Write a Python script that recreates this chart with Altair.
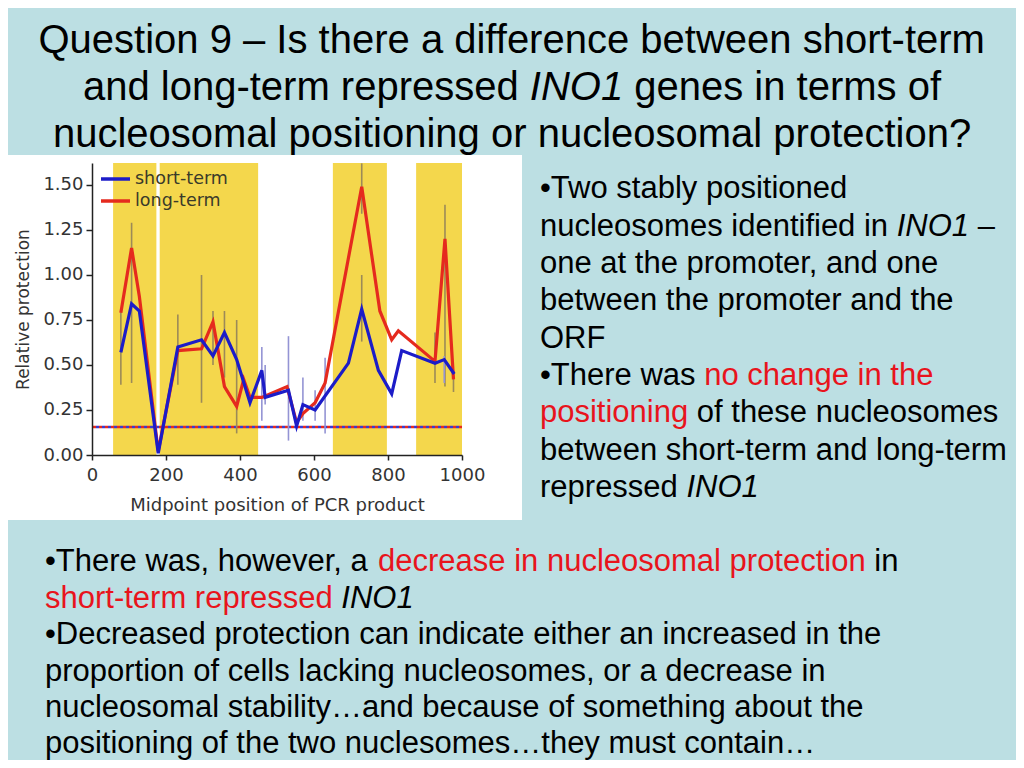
import altair as alt
import pandas as pd

# ---------------- data ----------------
short_x = [78, 107, 128, 179, 232, 296, 327, 358, 391, 427, 459, 468, 531, 553, 570, 603, 693, 729, 774, 810, 837, 927, 952, 979]
short_y = [0.57, 0.84, 0.80, 0.01, 0.60, 0.64, 0.55, 0.68, 0.53, 0.29, 0.47, 0.32, 0.36, 0.16, 0.28, 0.25, 0.51, 0.81, 0.47, 0.34, 0.58, 0.51, 0.53, 0.45]

long_x = [78, 107, 128, 179, 232, 296, 327, 358, 391, 410, 427, 459, 527, 553, 570, 603, 630, 729, 778, 810, 828, 927, 954, 977]
long_y = [0.79, 1.15, 0.88, 0.02, 0.58, 0.59, 0.74, 0.38, 0.27, 0.42, 0.32, 0.32, 0.38, 0.18, 0.23, 0.29, 0.40, 1.49, 0.80, 0.64, 0.69, 0.52, 1.20, 0.42]

err_x = [78, 107, 232, 296, 327, 358, 391, 729, 729, 927, 954, 977, 459, 468, 531, 570, 603, 630, 952]
err_lo = [0.39, 0.40, 0.39, 0.29, 0.50, 0.43, 0.12, 1.34, 0.63, 0.40, 0.38, 0.35, 0.19, 0.28, 0.08, 0.19, 0.19, 0.12, 0.40]
err_hi = [0.80, 1.29, 0.78, 1.00, 0.80, 0.80, 0.75, 1.62, 1.00, 0.68, 1.39, 0.47, 0.60, 0.50, 0.66, 0.43, 0.36, 0.54, 0.55]
err_series = ["long", "long", "long", "long", "long", "long", "long", "long", "long", "long", "long", "long",
              "short", "short", "short", "short", "short", "short", "short"]

band_start = [57, 183, 651, 876]
band_end = [174, 449, 797, 1000]

background_level = [0.155]

x_ticks = [0, 200, 400, 600, 800, 1000]
y_ticks = [0.0, 0.25, 0.5, 0.75, 1.0, 1.25, 1.5]

series_names = ["short-term", "long-term"]

title_lines = [
    [("Question 9 \u2013 Is there a difference between short-term", "black", False)],
    [("and long-term repressed ", "black", False), ("INO1", "black", True), (" genes in terms of", "black", False)],
    [("nucleosomal positioning or nucleosomal protection?", "black", False)],
]
right_lines = [
    [("\u2022Two stably positioned", "black", False)],
    [("nucleosomes identified in ", "black", False), ("INO1", "black", True), (" \u2013", "black", False)],
    [("one at the promoter, and one", "black", False)],
    [("between the promoter and the", "black", False)],
    [("ORF", "black", False)],
    [("\u2022There was ", "black", False), ("no change in the", "red", False)],
    [("positioning", "red", False), (" of these nucleosomes", "black", False)],
    [("between short-term and long-term", "black", False)],
    [("repressed ", "black", False), ("INO1", "black", True)],
]
bottom_lines = [
    [("\u2022There was, however, a ", "black", False), ("decrease in nucleosomal protection", "red", False), (" in", "black", False)],
    [("short-term repressed ", "red", False), ("INO1", "black", True)],
    [("\u2022Decreased protection can indicate either an increased in the", "black", False)],
    [("proportion of cells lacking nucleosomes, or a decrease in", "black", False)],
    [("nucleosomal stability\u2026and because of something about the", "black", False)],
    [("positioning of the two nuclesomes\u2026they must contain\u2026", "black", False)],
]

# ---------------- layout ----------------
W, H = 370, 292          # plot area
OX, OY = 92, 163         # plot origin on the page
BG = "#bcdfe3"
RED_TXT = "#e8141c"
BLUE = "#1c1cc8"
RED = "#e52a1e"
OLIVE = "#9c8a58"
LAVENDER = "#9494d4"
YELLOW = "#f4d74c"
CH_FONT = "DejaVu Sans"
TX_FONT = "Liberation Sans"

AW = {c: w for c, w in zip("abcdefghijklmnopqrstuvwxyz",
      [556, 556, 500, 556, 556, 278, 556, 556, 222, 222, 500, 222, 833, 556, 556, 556, 556, 333, 500, 278, 556, 500, 722, 500, 500, 500])}
AW.update({c: w for c, w in zip("ABCDEFGHIJKLMNOPQRSTUVWXYZ",
      [667, 667, 722, 722, 667, 611, 778, 722, 278, 500, 667, 556, 833, 722, 778, 667, 778, 722, 667, 611, 722, 667, 944, 667, 667, 611])})
AW.update({" ": 278, "\u2022": 350, "\u2013": 556, ",": 278, ".": 278, "-": 333, "?": 556, "\u2026": 1000})
for d in "0123456789":
    AW[d] = 556


def tw(s, size):
    return sum(AW.get(c, 556) for c in s) * size / 1000.0


dummy = pd.DataFrame({"a": [0]})
xs = alt.Scale(domain=[0, 1000], nice=False, zero=False)
ys = alt.Scale(domain=[0, 1.622], nice=False, zero=True)

xaxis = alt.Axis(values=x_ticks, format="d", title="Midpoint position of PCR product", grid=False,
                 labelFont=CH_FONT, labelFontSize=18, labelColor="#333333", labelPadding=6,
                 tickSize=5, tickColor="#222", domainColor="#222", domainWidth=1.5, tickWidth=1.5,
                 titleFont=CH_FONT, titleFontSize=18, titleFontWeight="normal", titleColor="#333333",
                 titlePadding=12, labelFlush=False, zindex=2)
yaxis = alt.Axis(values=y_ticks, format=".2f", title="Relative protection", grid=False,
                 labelFont=CH_FONT, labelFontSize=18, labelColor="#333333", labelPadding=3,
                 tickSize=6, tickColor="#222", domainColor="#222", domainWidth=1.5, tickWidth=1.5,
                 titleFont=CH_FONT, titleFontSize=17, titleFontWeight="normal", titleColor="#333333",
                 titlePadding=10, zindex=2)


def X(f):
    return alt.X(f, type="quantitative", scale=xs, axis=xaxis)


def Y(f):
    return alt.Y(f, type="quantitative", scale=ys, axis=yaxis)


layers = []

# white picture box behind the plot
layers.append(alt.Chart(dummy).mark_rect(color="white").encode(
    x=alt.value(0 - OX), x2=alt.value(522 - OX), y=alt.value(155 - OY), y2=alt.value(520 - OY)))

# yellow bands
bands = pd.DataFrame({"s": band_start, "e": band_end})
layers.append(alt.Chart(bands).mark_rect(color=YELLOW).encode(
    x=X("s"), x2="e", y=alt.value(0), y2=alt.value(H)))

# dotted background level
lvl = pd.DataFrame({"y": background_level})
layers.append(alt.Chart(lvl).mark_rule(color=RED, strokeDash=[3, 3], strokeWidth=2.5).encode(y=Y("y")))
layers.append(alt.Chart(lvl).mark_rule(color="#3b3bd0", strokeDash=[3, 3], strokeDashOffset=3, strokeWidth=2.5).encode(y=Y("y")))

# error bars
err = pd.DataFrame({"x": err_x, "lo": err_lo, "hi": err_hi, "s": err_series})
layers.append(alt.Chart(err).mark_rule(strokeWidth=1.6).encode(
    x=X("x"), y=Y("lo"), y2="hi",
    color=alt.Color("s:N", scale=alt.Scale(domain=["long", "short"], range=[OLIVE, LAVENDER]), legend=None)))

# lines
long_df = pd.DataFrame({"x": long_x, "y": long_y})
short_df = pd.DataFrame({"x": short_x, "y": short_y})
layers.append(alt.Chart(long_df).mark_line(color=RED, strokeWidth=3.2, strokeJoin="miter").encode(x=X("x"), y=Y("y")))
layers.append(alt.Chart(short_df).mark_line(color=BLUE, strokeWidth=3.2, strokeJoin="miter").encode(x=X("x"), y=Y("y")))

# legend inside the plot
for name, col, ly in [(series_names[0], BLUE, 179), (series_names[1], RED, 201)]:
    layers.append(alt.Chart(dummy).mark_rule(color=col, strokeWidth=3.5).encode(
        x=alt.value(101 - OX), x2=alt.value(130 - OX), y=alt.value(ly - OY)))
    layers.append(alt.Chart(dummy).mark_text(text=name, align="left", baseline="middle", font=CH_FONT,
                                             fontSize=17.5, color="#3a3a2a").encode(
        x=alt.value(135 - OX), y=alt.value(ly - OY)))


# slide text
def add_line(segs, x0, y, size, center=None):
    total = sum(tw(t, size) for t, _, _ in segs)
    x = (center - total / 2.0) if center is not None else x0
    for t, col, it in segs:
        lead = len(t) - len(t.lstrip(" "))
        x += tw(" " * lead, size)
        body = t.lstrip(" ")
        if body.strip():
            layers.append(alt.Chart(dummy).mark_text(
                text=body.rstrip(" "), align="left", baseline="alphabetic", font=TX_FONT, fontSize=size,
                fontStyle="italic" if it else "normal",
                color=RED_TXT if col == "red" else "#000000").encode(
                x=alt.value(x - OX), y=alt.value(y - OY)))
        x += tw(body, size)


for segs, by in zip(title_lines, [53, 100, 147]):
    add_line(segs, None, by, 40, center=512)
for segs, by in zip(right_lines, [198, 235.5, 273, 310, 348, 385, 422, 460, 497]):
    add_line(segs, 540, by, 31)
for segs, by in zip(bottom_lines, [571, 607.5, 644, 680.5, 717, 752.5]):
    add_line(segs, 45, by, 31)

chart = alt.layer(*layers).properties(
    width=W, height=H,
    autosize=alt.AutoSizeParams(type="none"),
    padding={"left": 84, "top": 155, "right": 554, "bottom": 305},
    background=BG,
).configure_view(strokeWidth=0)

chart.save("out.html", embed_options={"renderer": "svg", "actions": False})
